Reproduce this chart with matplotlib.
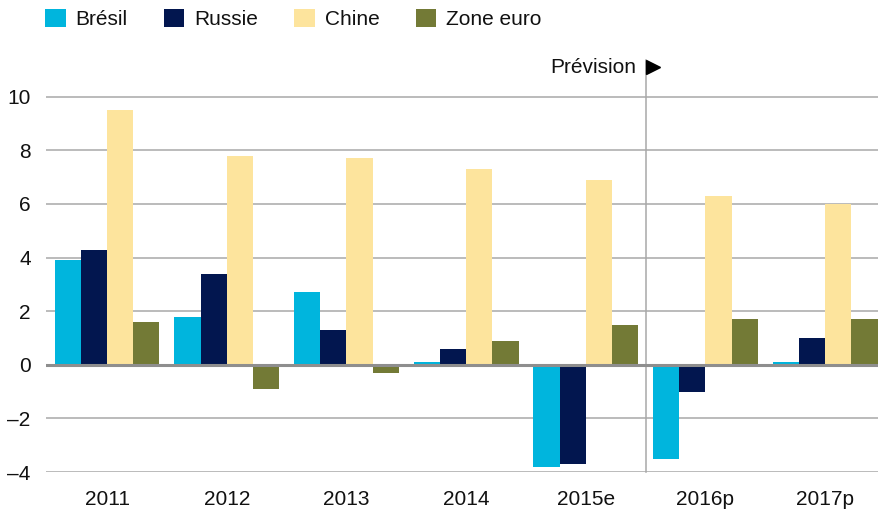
import matplotlib

matplotlib.use("Agg")

import matplotlib.pyplot as plt
import numpy as np
from matplotlib.patches import Patch
from matplotlib.transforms import offset_copy

plt.rcParams["font.family"] = ["Liberation Sans", "DejaVu Sans"]

YEARS = ["2011", "2012", "2013", "2014", "2015e", "2016p", "2017p"]
SERIES = ["Brésil", "Russie", "Chine", "Zone euro"]
BRESIL = [3.9, 1.8, 2.7, 0.1, -3.8, -3.5, 0.1]
RUSSIE = [4.3, 3.4, 1.3, 0.6, -3.7, -1.0, 1.0]
CHINE = [9.5, 7.8, 7.7, 7.3, 6.9, 6.3, 6.0]
ZONE_EURO = [1.6, -0.9, -0.3, 0.9, 1.5, 1.7, 1.7]
Y_TICKS = [-4, -2, 0, 2, 4, 6, 8, 10]
FORECAST_START = 5  # index of first forecast year

COLORS = ["#00b5dd", "#02164f", "#fde49d", "#737a36"]
GRID_COLOR = "#a8a8a8"
ZERO_COLOR = "#8e8e8e"
TEXT_COLOR = "#111111"
FONT_SIZE = 15

W, H = 879, 519
fig = plt.figure(figsize=(W / 100, H / 100), dpi=100)
ax = fig.add_axes([46 / W, 47 / H, (W - 46) / W, (472 - 60) / H])

x = np.arange(len(YEARS))
bar_w = 0.219
values = [BRESIL, RUSSIE, CHINE, ZONE_EURO]
for i, (vals, color) in enumerate(zip(values, COLORS)):
    ax.bar(x + (i - 1.5) * bar_w, vals, width=bar_w, color=color, zorder=3)

ax.set_xlim(-0.51, 6.45)
ax.set_ylim(-4, 11.37)
ax.set_yticks(Y_TICKS)
ax.set_yticklabels([str(t).replace("-", "\u2013") for t in Y_TICKS])
ax.set_xticks(x)
ax.set_xticklabels(YEARS)
ax.tick_params(axis="both", length=0, labelsize=FONT_SIZE, colors=TEXT_COLOR)
ax.tick_params(axis="y", pad=11)
ax.tick_params(axis="x", pad=13)
for spine in ax.spines.values():
    spine.set_visible(False)

for t in Y_TICKS:
    if t == 0:
        ax.axhline(0, color=ZERO_COLOR, linewidth=2.2, zorder=4)
    else:
        ax.axhline(t, color=GRID_COLOR, linewidth=1.1, zorder=1)

# forecast divider
x_div = FORECAST_START - 0.5
ax.plot([x_div, x_div], [-4, 11.37], color=GRID_COLOR, linewidth=1.1,
        zorder=2, clip_on=False)
tri_trans = offset_copy(ax.transData, fig=fig, x=5, y=0, units="points")
ax.plot([x_div], [11.1], marker=">", markersize=9.5, color="black",
        transform=tri_trans, clip_on=False, zorder=5)
ax.text(x_div - 0.075, 11.1, "Prévision", ha="right", va="center",
        fontsize=FONT_SIZE, color=TEXT_COLOR)

handles = [Patch(facecolor=c, edgecolor="none") for c in COLORS]
fig.legend(
    handles, SERIES,
    loc="upper left",
    bbox_to_anchor=(26 / W, 1.0 + 10 / H),
    ncol=4,
    frameon=False,
    fontsize=FONT_SIZE,
    handlelength=1.0,
    handleheight=1.0,
    handletextpad=0.47,
    columnspacing=1.73,
    labelcolor=TEXT_COLOR,
)

fig.savefig("out.png", dpi=100)
